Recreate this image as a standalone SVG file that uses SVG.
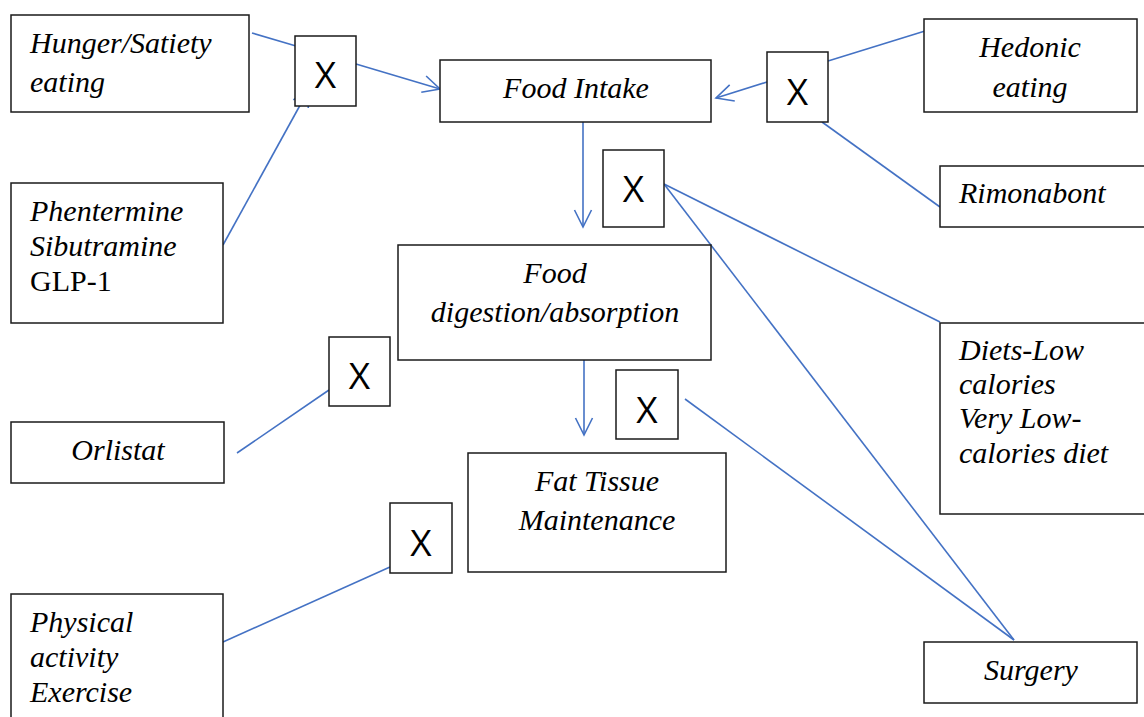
<svg xmlns="http://www.w3.org/2000/svg" width="1144" height="717" viewBox="0 0 1144 717">
<style>
.box{fill:#fff;stroke:#1a1a1a;stroke-width:1.5}
.t{font-family:"Liberation Serif","Times New Roman",serif;font-size:30px;font-style:italic;fill:#000}
.n{font-style:normal}
.m{text-anchor:middle}
.x{font-family:"Open Sans","Liberation Sans",sans-serif;font-size:37px;fill:#000;text-anchor:middle}
.c{stroke:#4472C4;stroke-width:1.6;fill:none}
</style>
<defs>
<marker id="ah" markerUnits="userSpaceOnUse" markerWidth="20" markerHeight="20" viewBox="0 0 20 20" refX="18" refY="10" orient="auto">
<path d="M1,1.5 L18,10 L1,18.5" fill="none" stroke="#4472C4" stroke-width="1.6"/>
</marker>
</defs>
<rect width="1144" height="717" fill="#fff"/>
<g id="connectors">
<line class="c" x1="252" y1="33" x2="296" y2="46"/>
<line class="c" x1="356" y1="64" x2="440" y2="89" marker-end="url(#ah)"/>
<line class="c" x1="223" y1="245" x2="309" y2="89" marker-end="url(#ah)"/>
<line class="c" x1="828" y1="61" x2="925" y2="31"/>
<line class="c" x1="767" y1="82" x2="716" y2="98" marker-end="url(#ah)"/>
<line class="c" x1="822" y1="122" x2="940" y2="207"/>
<line class="c" x1="583" y1="122" x2="583" y2="227" marker-end="url(#ah)"/>
<line class="c" x1="664" y1="184" x2="940" y2="322"/>
<line class="c" x1="664" y1="184" x2="1014" y2="640"/>
<line class="c" x1="685" y1="399" x2="1014" y2="640"/>
<line class="c" x1="584" y1="360" x2="584" y2="435" marker-end="url(#ah)"/>
<line class="c" x1="237" y1="453" x2="329" y2="390"/>
<line class="c" x1="223" y1="642" x2="390" y2="567"/>
</g>
<g id="hunger"><rect class="box" x="11" y="15" width="238" height="97"/><text class="t" x="30" y="53">Hunger/Satiety</text><text class="t" x="30" y="92">eating</text></g>
<g id="drugs"><rect class="box" x="11" y="183" width="212" height="140"/><text class="t" x="30" y="221">Phentermine</text><text class="t" x="30" y="256">Sibutramine</text><text class="t n" x="30" y="291">GLP-1</text></g>
<g id="x1"><rect class="box" x="295" y="36" width="61" height="70"/><text class="x" x="325.5" y="88">X</text></g>
<g id="food-intake"><rect class="box" x="440" y="60" width="271" height="62"/><text class="t m" x="576" y="98">Food Intake</text></g>
<g id="x2"><rect class="box" x="767" y="52" width="61" height="70"/><text class="x" x="797.5" y="105">X</text></g>
<g id="hedonic"><rect class="box" x="924" y="19" width="213" height="93"/><text class="t m" x="1030" y="57">Hedonic</text><text class="t m" x="1030" y="97">eating</text></g>
<g id="rimonabont"><rect class="box" x="940" y="166" width="220" height="61"/><text class="t" x="959" y="203">Rimonabont</text></g>
<g id="x3"><rect class="box" x="603" y="150" width="61" height="77"/><text class="x" x="633.5" y="202">X</text></g>
<g id="digestion"><rect class="box" x="398" y="245" width="313" height="115"/><text class="t m" x="555" y="283">Food</text><text class="t m" x="555" y="322">digestion/absorption</text></g>
<g id="diets"><rect class="box" x="940" y="323" width="220" height="191"/><text class="t" x="959" y="360">Diets-Low</text><text class="t" x="959" y="394">calories</text><text class="t" x="959" y="428">Very Low-</text><text class="t" x="959" y="463">calories diet</text></g>
<g id="x-orlistat"><rect class="box" x="329" y="337" width="61" height="69"/><text class="x" x="359.5" y="389">X</text></g>
<g id="orlistat"><rect class="box" x="11" y="422" width="213" height="61"/><text class="t m" x="118" y="460">Orlistat</text></g>
<g id="x4"><rect class="box" x="616" y="370" width="62" height="69"/><text class="x" x="647" y="423">X</text></g>
<g id="fat-tissue"><rect class="box" x="468" y="453" width="258" height="119"/><text class="t m" x="597" y="491">Fat Tissue</text><text class="t m" x="597" y="530">Maintenance</text></g>
<g id="x5"><rect class="box" x="390" y="503" width="62" height="70"/><text class="x" x="421" y="556">X</text></g>
<g id="physical"><rect class="box" x="11" y="594" width="212" height="140"/><text class="t" x="30" y="632">Physical</text><text class="t" x="30" y="667">activity</text><text class="t" x="30" y="702">Exercise</text></g>
<g id="surgery"><rect class="box" x="924" y="642" width="213" height="61"/><text class="t m" x="1031" y="680">Surgery</text></g>
</svg>
